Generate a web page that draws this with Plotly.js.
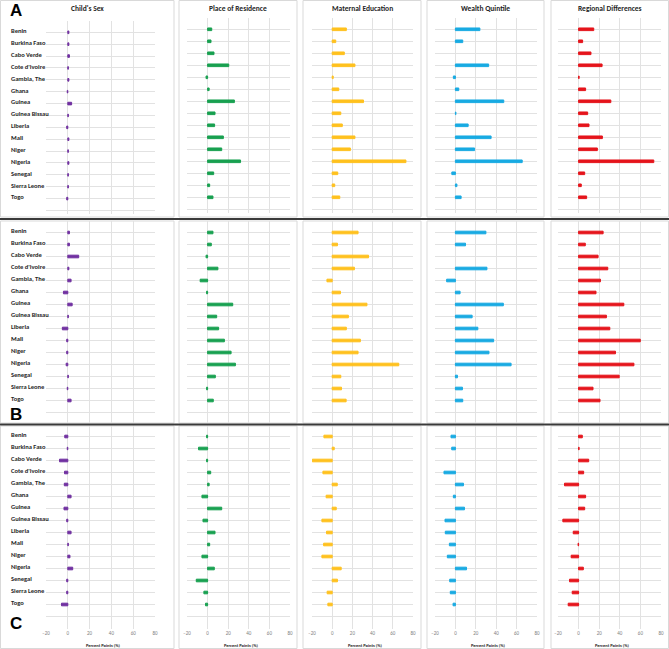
<!DOCTYPE html>
<html><head><meta charset="utf-8">
<script src="https://cdn.plot.ly/plotly-3.0.1.min.js"></script>
<style>html,body{margin:0;padding:0;background:#fff}</style>
</head><body><div id="chart" style="width:669px;height:649px"></div>
<script>
// ---------- data ----------
const countries = ["Benin","Burkina Faso","Cabo Verde","Cote d'Ivoire","Gambia, The","Ghana","Guinea","Guinea Bissau","Liberia","Mali","Niger","Nigeria","Senegal","Sierra Leone","Togo"];
const columnTitles = ["Child's Sex","Place of Residence","Maternal Education","Wealth Quintile","Regional Differences"];
const rowLetters = ["A","B","C"];
const tickVals = [-20,0,20,40,60,80];
const axisTitle = "Percent Points (%)";

// Row A
const childSexA     = [1,1,1.5,0.5,1,-0.5,3.5,0.5,-1,1,0.5,1,0.5,0.5,-1];
const residenceA    = [4,3.3,6.2,20.5,-1.5,1.5,26,7.2,6.8,15.3,13.7,32,5.9,2,5.2];
const maternalEduA  = [14,3.5,12,22.5,1,6.5,31,8.5,10,22.5,18,73,5.5,2.5,7.5];
const wealthA       = [24,7.2,null,32.6,-2,3.3,47.4,0.5,12.5,35,18.8,65.5,-3.5,1.5,5.6];
const regionalA     = [14.7,3.9,12,22.8,0.5,6.8,31.3,8.8,10.1,23.1,18.2,73,5.9,2.6,7.8];
// Row B
const childSexB     = [1.5,1.5,10,1,3,-4,4,0.5,-5,-1,-1,-1.5,0.5,-0.5,3];
const residenceB    = [5.2,3.6,-1.5,10,-7.2,-1,24.4,8.8,10.7,16.3,22.8,27,7.5,-1,5.5];
const maternalEduB  = [25.6,5.2,36,22,-5.2,8.2,34.4,16,14,27.9,25.6,65.9,8.5,9.2,13.8];
const wealthB       = [29.9,9.9,null,30.9,-8.6,4.6,47,16.4,22,37.5,32.9,54.6,2,6.9,7.2];
const regionalB     = [23.8,6.5,18.9,28.3,21.2,16.9,43.9,27,30.3,59.9,35.8,53.7,39.4,14,20.8];
// Row C
const childSexC     = [-2.8,-0.5,-7.6,-3,-3.2,3,-3.5,-1,3,0.5,2,4.5,-1,-1,-5.8];
const residenceC    = [-1,-8.8,-1,3,1.5,-5.5,13.7,-4.5,7.2,2,-5.5,6.5,-11,-3.6,-2];
const maternalEduC  = [-8.2,2,-19.7,-9.2,5,-6,4,-10.2,-5.6,-8.5,-10.2,8.9,5.2,-5,-4.3];
const wealthC       = [-4.3,-3.6,null,-11.2,7.9,-2,8.9,-10.2,-9.9,-5.9,-7.9,10.9,-5.6,-5,-2.3];
const regionalC     = [3.6,0.5,9.8,4.9,-13.7,6.8,5.9,-15.3,-5.2,-0.5,-7.2,4.6,-8.8,-6.2,-10.1];

const grid = [
  [childSexA, residenceA, maternalEduA, wealthA, regionalA],
  [childSexB, residenceB, maternalEduB, wealthB, regionalB],
  [childSexC, residenceC, maternalEduC, wealthC, regionalC]
];
const colors = ["#7030A0","#18A050","#FFC11E","#18AAE2","#E5141B"];

// ---------- layout geometry (pixels) ----------
const W = 669, H = 649;
const plotX = [[46,155],[187,290],[312,413],[435,537],[558,661]];
const panelX = [[0.5,174],[179,297],[303,421],[427,544],[551,668.5]];
const panelY = [[0.5,217],[221,423],[426,648.5]];
const rowGeo = [
  {c0:29.3, s:12.0, top:-0.92, bot:15.33, n:16},
  {c0:232.5, s:12.0, top:-1.0, bot:15.9, n:16},
  {c0:436.5, s:12.0, top:-0.95, bot:16.02, n:17}
];
const FONT = "'Liberation Sans Narrow', Carlito, Roboto, sans-serif";

const data = [];
const layout = {
  width: W, height: H, margin:{l:0,r:0,t:0,b:0},
  paper_bgcolor:"#fff", plot_bgcolor:"rgba(0,0,0,0)",
  showlegend:false, bargap:0,
  annotations:[], shapes:[]
};

for (let r=0;r<3;r++){
  for (let c=0;c<5;c++){
    const n = r*5+c+1;
    const sfx = n===1 ? "" : String(n);
    let g = rowGeo[r];
    let c0 = g.c0, s = g.s;
    if (r===0 && c===0){ c0 = 32.3; s = 11.88; }
    const topPx = c0 + g.top*s, botPx = c0 + g.bot*s;
    data.push({
      type:"bar", orientation:"h",
      x: grid[r][c], y: countries.map((_,i)=>i),
      xaxis:"x"+sfx, yaxis:"y"+sfx,
      width:0.22,
      marker:{color:colors[c], line:{color:colors[c], width:1}},
      hoverinfo:"skip"
    });
    layout["xaxis"+sfx] = {
      domain:[plotX[c][0]/W, plotX[c][1]/W], range:[-20,80], anchor:"y"+sfx,
      tickvals:tickVals, showticklabels: r===2, ticks:"",
      tickfont:{size:5, color:"#808080", family:FONT},
      showgrid:true, gridcolor:"#e2e2e2", gridwidth:1, zeroline:false, showline:false,
      fixedrange:true
    };
    const yt = []; for (let k=0;k<g.n;k++) yt.push(k);
    layout["yaxis"+sfx] = {
      domain:[1-botPx/H, 1-topPx/H], range:[g.bot, g.top], anchor:"x"+sfx,
      tickvals:yt, showticklabels:false, ticks:"",
      showgrid:true, gridcolor:"#e2e2e2", gridwidth:1, zeroline:false, showline:false,
      fixedrange:true
    };
    layout.shapes.push({type:"rect", xref:"paper", yref:"paper",
      x0:panelX[c][0]/W, x1:panelX[c][1]/W, y0:1-panelY[r][1]/H, y1:1-panelY[r][0]/H,
      line:{color:"#d9d9d9", width:1}, layer:"below"});
    if (c===0){
      countries.forEach((name,i)=>{
        layout.annotations.push({xref:"paper", yref:"y"+sfx, x:9/W, y:i-0.1, xanchor:"left", yanchor:"middle",
          text:"<b>"+name+"</b>", showarrow:false, font:{size:6.5, color:"#262626", family:FONT}});
      });
    }
    if (r===0){
      layout.annotations.push({xref:"paper", yref:"paper", x:((panelX[c][0]+panelX[c][1])/2)/W, y:1-9/H,
        xanchor:"center", yanchor:"middle", text:"<b>"+columnTitles[c]+"</b>", showarrow:false,
        font:{size:7.5, color:"#262626", family:FONT}});
    }
    if (r===2){
      layout.annotations.push({xref:"paper", yref:"paper", x:((plotX[c][0]+plotX[c][1])/2+2)/W, y:1-645/H,
        xanchor:"center", yanchor:"middle", text:"<b>"+axisTitle+"</b>", showarrow:false,
        font:{size:4.5, color:"#262626", family:FONT}});
    }
  }
}
const letterY = [10, 415, 623];
rowLetters.forEach((L,i)=>{
  layout.annotations.push({xref:"paper", yref:"paper", x:8/W, y:1-letterY[i]/H, xanchor:"left", yanchor:"middle",
    text:"<b>"+L+"</b>", showarrow:false, font:{size:17, color:"#000", family:"'Liberation Sans', Arial, sans-serif"}});
});
[219, 424.5].forEach(py=>{
  layout.shapes.push({type:"line", xref:"paper", yref:"paper", x0:0, x1:1, y0:1-py/H, y1:1-py/H,
    line:{color:"#3a3a3a", width:2}});
});

Plotly.newPlot("chart", data, layout, {staticPlot:true, displayModeBar:false});
</script>
</body></html>
